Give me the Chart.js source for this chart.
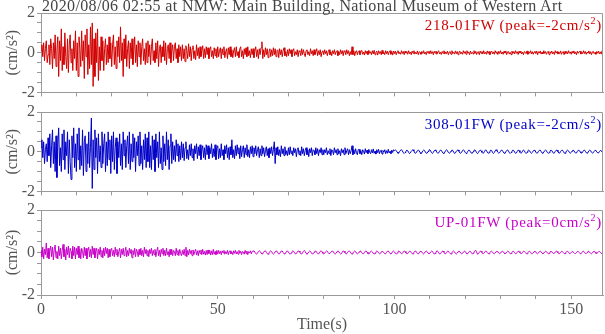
<!DOCTYPE html>
<html>
<head>
<meta charset="utf-8">
<script src="https://cdn.jsdelivr.net/npm/chart.js@4.4.1/dist/chart.umd.min.js"></script>
<style>
  body { margin: 0; background: #fff; width: 605px; height: 334px; position: relative; overflow: hidden; font-family: "Liberation Serif", "DejaVu Serif", serif; }
  #title { position: absolute; left: 42px; top: -2px; font-size: 16px; line-height: 16px; letter-spacing: 0.35px; color: #444; white-space: nowrap; z-index: 2; }
  canvas { position: absolute; left: 0; }
  .lbl { position: absolute; right: 3px; font-size: 15px; letter-spacing: 0.7px; line-height: 15px; white-space: nowrap; }
  .lbl sup { font-size: 10px; vertical-align: 6px; line-height: 0; }
</style>
</head>
<body>
<canvas id="c1" width="605" height="104" style="top:0px"></canvas>
<canvas id="c2" width="605" height="104" style="top:99px"></canvas>
<canvas id="c3" width="605" height="136" style="top:198px"></canvas>
<div id="title">2020/08/06 02:55 at NMW: Main Building, National Museum of Western Art</div>
<div class="lbl" style="top:18px;color:#d20000">218-01FW (peak=-2cm/s<sup>2</sup>)</div>
<div class="lbl" style="top:117px;color:#0000c8">308-01FW (peak=-2cm/s<sup>2</sup>)</div>
<div class="lbl" style="top:215px;color:#c800c8">UP-01FW (peak=0cm/s<sup>2</sup>)</div>
<script>
// sampling step of the traces (s), one row below = 10 s
const dt = 0.25;
const xTickLabels = [0, 50, 100, 150];
const yTickLabels = [-2, 0, 2];

// 218-01FW (cm/s^2)
const ns218 = [
  0.1, 0.4, -0.2, 0.5, -0.4, 0.2, 0.6, -0.5, -0.1, 0.4, -0.6, 0.7, 0.2, -0.8, 0.5, -0.3, 0.9, -0.7, 0.1, 0.8,
  -1.2, 0.6, -0.4, 1.2, -0.9, 0.3, -0.6, 1.0, -0.2, -0.8, 0.7, -1.0, 0.4, 0.9, -0.5, 0.2, -0.9, 0.6, -0.3, 1.1,
  -0.9, 0.5, -1.2, 0.8, 0.2, -0.7, 1.1, -0.4, 0.6, -1.3, 0.9, -0.2, 1.2, -1.1, 0.4, -0.8, 1.3, -0.6, 1.5, -1.7,
  0.7, -1.2, 1.0, -0.5, 1.2, -1.4, 0.3, -0.9, 0.8, -0.4, 0.6, -0.9, 0.2, 0.7, -0.6, 0.4, -0.5, 0.8, -0.3, 0.5,
  -0.7, 0.4, 0.9, -0.6, 0.3, -0.8, 0.6, -0.2, 0.8, -0.5, 1.3, -0.4, 0.5, -1.2, 0.7, -0.3, 0.9, -0.7, 0.2, 0.6,
  -0.8, 0.5, -0.3, 0.7, -0.6, 0.1, 0.8, -0.5, 0.4, -0.7, 0.6, -0.2, 0.5, -0.6, 0.3, 0.7, -0.4, 0.2, -0.6, 0.5,
  -0.5, 0.6, -0.2, 0.4, -0.6, 0.3, 0.7, -0.4, 0.1, -0.5, 0.5, -0.3, 0.6, -0.7, 0.2, 0.4, -0.5, 0.3, -0.2, 0.6,
  -0.4, 0.5, -0.6, 0.2, 0.4, -0.3, 0.5, -0.5, 0.1, 0.4, -0.4, 0.3, 0.5, -0.3, 0.2, -0.5, 0.4, -0.2, 0.3, -0.4,
  0.4, -0.3, 0.2, -0.45, 0.35, 0.1, -0.3, 0.45, -0.2, 0.3, -0.4, 0.2, 0.35, -0.3, 0.1, -0.35, 0.4, -0.15, 0.25, -0.3,
  0.3, -0.2, 0.1, 0.35, -0.3, 0.2, -0.25, 0.3, -0.1, 0.25, -0.3, 0.15, 0.3, -0.2, 0.1, -0.3, 0.25, -0.15, 0.2, -0.25,
  0.3, -0.2, 0.1, 0.25, -0.3, 0.2, -0.1, 0.3, -0.25, 0.05, 0.2, -0.3, 0.25, -0.1, 0.3, -0.2, 0.15, -0.25, 0.1, 0.25,
  -0.2, 0.3, -0.15, 0.05, -0.25, 0.2, 0.3, -0.2, 0.1, -0.3, 0.2, -0.1, 0.25, -0.2, 0.3, -0.15, 0.1, -0.25, 0.2, -0.1,
  0.2, -0.25, 0.1, 0.3, -0.2, 0.15, -0.3, 0.2, -0.1, 0.25, 0.55, -0.3, 0.15, -0.2, 0.25, -0.1, 0.2, -0.25, 0.05, 0.2,
  -0.2, 0.15, -0.15, 0.25, -0.1, 0.2, -0.2, 0.1, 0.15, -0.25, 0.2, -0.1, 0.15, -0.2, 0.1, 0.25, -0.15, 0.05, -0.2, 0.15,
  -0.15, 0.2, -0.05, 0.15, -0.2, 0.1, 0.2, -0.15, 0.05, -0.1, 0.15, -0.2, 0.1, 0.05, -0.15, 0.2, -0.1, 0.15, -0.05, -0.2,
  0.1, 0.15, -0.1, 0.05, -0.15, 0.2, -0.05, 0.1, -0.15, 0.15, -0.1, 0.05, 0.2, -0.15, 0.1, -0.1, 0.15, -0.2, 0.05, 0.1,
  -0.1, 0.15, -0.05, 0.1, -0.15, 0.05, 0.15, -0.1, 0.05, -0.15, 0.1, -0.05, 0.15, -0.1, 0.05, 0.1, -0.15, 0.05, -0.1, 0.15,
  -0.05, 0.1, -0.15, 0.1, 0.05, -0.1, 0.15, -0.05, 0.1, -0.15, 0.05, -0.1, 0.3, -0.1, 0.1, -0.15, 0.05, 0.1, -0.1, 0.05,
  0.1, -0.1, 0.05, 0.12, -0.08, 0.03, -0.12, 0.1, -0.05, 0.08, -0.1, 0.12, -0.03, 0.05, -0.1, 0.1, -0.06, 0.12, -0.1, 0.02,
  0.08, -0.12, 0.1, -0.04, 0.06, -0.1, 0.12, -0.06, 0.02, -0.1, 0.1, -0.05, 0.08, -0.1, 0.04, 0.1, -0.08, 0.06, -0.12, 0.08,
  -0.05, 0.08, -0.1, 0.04, 0.1, -0.06, 0.02, -0.08, 0.1, -0.04, 0.06, -0.1, 0.08, -0.02, 0.05, -0.08, 0.1, -0.05, 0.03, -0.1,
  0.08, -0.03, 0.1, -0.07, 0.02, -0.06, 0.09, -0.1, 0.05, 0.02, -0.08, 0.06, -0.04, 0.1, -0.06, 0.03, -0.1, 0.07, -0.02, 0.08,
  -0.06, 0.1, -0.04, 0.05, -0.1, 0.07, -0.02, 0.08, -0.08, 0.04, 0.1, -0.06, 0.02, -0.09, 0.06, -0.03, 0.1, -0.07, 0.04, -0.05,
  0.08, -0.1, 0.03, 0.06, -0.08, 0.1, -0.04, 0.02, -0.07, 0.09, -0.05, 0.06, -0.1, 0.04, 0.08, -0.06, 0.02, -0.08, 0.1, -0.03,
  0.06, -0.08, 0.1, -0.02, 0.04, -0.1, 0.08, -0.05, 0.02, -0.06, 0.1, -0.04, 0.07, -0.09, 0.03, 0.05, -0.1, 0.08, -0.03, 0.06,
  -0.07, 0.1, -0.05, 0.02, -0.08, 0.09, -0.04, 0.06, -0.1, 0.03, 0.08, -0.06, 0.04, -0.08, 0.1, -0.02, 0.05, -0.09, 0.07, -0.04,
  0.1, -0.06, 0.03, -0.08, 0.07, -0.02, 0.09, -0.1, 0.04, 0.06, -0.07, 0.02, -0.1, 0.08, -0.04, 0.06, -0.06, 0.1, -0.03, 0.05,
  -0.09, 0.07, -0.02, 0.08, -0.06, 0.03, -0.1, 0.06, 0.02, -0.05, 0.09, -0.08, 0.04, -0.03, 0.1, -0.06, 0.05, -0.08, 0.03, 0.07,
  -0.05, 0.08, -0.1, 0.05, -0.02, 0.09, -0.07, 0.03, -0.06, 0.1, -0.04, 0.06, -0.08, 0.02, 0.07, -0.1, 0.05, -0.03, 0.08, -0.06,
  0.04, -0.09, 0.1, -0.02, 0.06, -0.07, 0.03, -0.05, 0.09, -0.08, 0.02, 0.06, -0.1, 0.07, -0.04, 0.05, -0.06, 0.1, -0.03, 0.04,
  -0.08, 0.06, -0.02, 0.09, -0.06, 0.04, -0.1, 0.07, -0.03, 0.05, 0.08, -0.07, 0.02, -0.05, 0.1, -0.04, 0.06, -0.08, 0.03, -0.02,
  0.09, -0.06, 0.05, -0.1, 0.04, 0.07, -0.05, 0.02, -0.08, 0.06, -0.03, 0.08, -0.06, 0.04, -0.07, 0.1, -0.02, 0.05, -0.06, 0.03
];

// 308-01FW (cm/s^2)
const ew308 = [
  0.2, 0.6, -0.3, 0.5, -0.6, 0.1, 0.4, -0.5, 0.7, -0.2, 0.9, -0.8, 0.3, 1.1, -0.6, 0.5, -1.0, 0.8, -1.3, 0.4,
  1.2, -0.7, 0.2, -1.0, 0.9, -0.4, 1.1, -0.9, 0.5, -0.2, 1.0, -1.1, 0.6, -0.5, -1.4, 0.8, -0.3, 1.2, -0.8, 0.4,
  -1.0, 0.9, -0.4, 1.2, -0.9, 0.3, -0.7, 1.1, -1.2, 0.5, 0.8, -1.0, 0.4, -0.6, 1.0, -0.8, 0.2, 1.7, -1.85, 0.6,
  -0.9, 1.1, -0.3, 0.7, -1.1, 0.9, -0.5, 0.3, -0.8, 1.0, -0.6, 0.4, 0.9, -1.0, 0.5, -0.7, 1.0, -0.4, 0.6, -1.1,
  0.8, -0.5, 1.0, -0.9, 0.2, 0.7, -1.1, 0.5, -0.3, 0.9, -0.7, 0.4, -0.9, 1.0, -0.2, 0.6, -0.8, 0.3, 0.8, -0.6,
  1.0, -0.9, 0.4, -0.5, 0.9, -0.3, 0.7, -1.0, 0.5, -0.2, 0.8, -0.7, 1.0, -0.6, 0.3, -0.9, 0.6, -0.4, 0.9, -0.8,
  0.7, -0.5, 1.0, -0.8, 0.3, -0.9, 0.8, -0.4, 0.6, -1.0, 0.9, -0.3, 0.5, -0.8, 1.0, -0.6, 0.2, -0.9, 0.8, -0.5,
  0.4, -0.7, 1.0, -0.4, 0.6, -0.9, 0.3, 0.9, -0.6, 0.5, -0.4, 0.3, -0.5, 0.6, -0.2, 0.4, -0.5, 0.3, -0.4, 0.5,
  -0.3, 0.4, -0.45, 0.2, 0.5, -0.35, 0.1, -0.4, 0.35, -0.2, 0.4, -0.3, 0.15, -0.45, 0.3, -0.1, 0.4, -0.35, 0.25, -0.2,
  0.35, -0.4, 0.1, 0.3, -0.3, 0.2, -0.4, 0.35, -0.15, 0.3, -0.35, 0.2, -0.1, 0.4, -0.3, 0.15, -0.25, 0.35, -0.4, 0.2,
  0.3, -0.35, 0.15, -0.3, 0.4, -0.2, 0.1, -0.4, 0.3, -0.1, 0.35, -0.3, 0.2, -0.4, 0.25, -0.15, 0.6, -0.3, 0.1, -0.35,
  0.3, -0.2, 0.35, -0.1, 0.2, -0.35, 0.3, -0.25, 0.1, 0.3, -0.3, 0.2, -0.15, 0.35, -0.25, 0.1, -0.3, 0.25, -0.1, 0.3,
  -0.25, 0.2, -0.1, 0.3, -0.2, 0.1, 0.25, -0.3, 0.15, -0.2, 0.3, -0.1, 0.2, -0.25, 0.05, 0.25, -0.2, 0.15, -0.3, 0.2,
  -0.1, 0.25, -0.2, 0.1, 0.5, -0.6, 0.2, -0.15, 0.25, -0.2, 0.1, -0.25, 0.3, -0.1, 0.15, -0.2, 0.25, -0.15, 0.05, -0.2,
  0.2, -0.15, 0.25, -0.1, 0.05, -0.2, 0.2, -0.05, 0.15, -0.25, 0.1, 0.2, -0.15, 0.05, -0.2, 0.25, -0.1, 0.15, -0.2, 0.05,
  0.2, -0.15, 0.1, -0.25, 0.15, -0.05, 0.2, -0.2, 0.1, 0.05, -0.15, 0.2, -0.1, 0.15, -0.2, 0.1, -0.05, 0.2, -0.15, 0.1,
  -0.15, 0.1, -0.05, 0.2, -0.15, 0.05, -0.1, 0.15, -0.2, 0.1, 0.05, -0.15, 0.2, -0.05, 0.1, -0.15, 0.15, -0.1, 0.05, -0.2,
  0.15, -0.05, 0.1, -0.15, 0.2, -0.1, 0.05, 0.15, -0.15, 0.1, -0.1, 0.05, 0.3, -0.15, 0.1, -0.1, 0.15, -0.05, -0.15, 0.1,
  0.12, -0.1, 0.05, -0.15, 0.1, 0.02, -0.12, 0.15, -0.05, 0.08, -0.1, 0.12, -0.04, -0.1, 0.1, -0.06, 0.14, -0.08, 0.03, -0.12,
  0.1, -0.05, 0.12, -0.1, 0.04, 0.08, -0.12, 0.06, -0.02, 0.1, -0.1, 0.05, -0.08, 0.12, -0.06, 0.02, -0.1, 0.08, -0.04, 0.1,
  0.05, 0.09, 0.06, -0.02, -0.08, -0.06, 0.02, 0.08, 0.1, 0.04, -0.05, -0.09, -0.04, 0.03, 0.08, 0.05, -0.03, -0.1, -0.06, 0.02,
  0.07, 0.1, 0.03, -0.06, -0.08, -0.02, 0.05, 0.09, 0.04, -0.04, -0.1, -0.05, 0.04, 0.08, 0.06, -0.02, -0.08, -0.07, 0.01, 0.08,
  0.1, 0.03, -0.05, -0.09, -0.03, 0.05, 0.09, 0.05, -0.03, -0.08, -0.06, 0.02, 0.08, 0.07, -0.01, -0.07, -0.09, -0.02, 0.06, 0.1,
  0.04, -0.04, -0.08, -0.05, 0.03, 0.09, 0.06, -0.02, -0.09, -0.06, 0.02, 0.07, 0.09, 0.02, -0.06, -0.08, -0.03, 0.05, 0.1, 0.05,
  -0.03, -0.09, -0.06, 0.02, 0.08, 0.07, -0.01, -0.07, -0.08, 0.0, 0.07, 0.09, 0.03, -0.05, -0.1, -0.04, 0.04, 0.08, 0.05, -0.03,
  -0.08, -0.06, 0.02, 0.09, 0.07, -0.02, -0.08, -0.05, 0.03, 0.08, 0.06, -0.04, -0.09, -0.04, 0.04, 0.1, 0.05, -0.03, -0.07, -0.05,
  0.02, 0.08, 0.07, -0.01, -0.07, -0.08, -0.01, 0.06, 0.09, 0.03, -0.05, -0.09, -0.04, 0.04, 0.08, 0.06, -0.02, -0.08, -0.06, 0.02,
  0.08, 0.06, -0.03, -0.08, -0.05, 0.03, 0.09, 0.05, -0.04, -0.09, -0.03, 0.05, 0.08, 0.04, -0.04, -0.08, -0.04, 0.03, 0.08, 0.06,
  -0.02, -0.08, -0.06, 0.02, 0.07, 0.08, 0.01, -0.06, -0.08, -0.02, 0.05, 0.09, 0.04, -0.04, -0.08, -0.05, 0.03, 0.08, 0.06, -0.02,
  -0.08, -0.06, 0.02, 0.07, 0.08, 0.0, -0.07, -0.07, 0.01, 0.07, 0.08, 0.02, -0.06, -0.08, -0.02, 0.05, 0.08, 0.04, -0.04, -0.08,
  -0.04, 0.03, 0.08, 0.06, -0.02, -0.07, -0.06, 0.02, 0.07, 0.07, 0.0, -0.06, -0.07, -0.01, 0.06, 0.08, 0.02, -0.05, -0.07, -0.03,
  0.04, 0.08, 0.05, -0.03, -0.07, -0.05, 0.02, 0.07, 0.06, -0.01, -0.06, -0.06, 0.01, 0.06, 0.05, -0.02, -0.05, -0.03, 0.02, 0.04
];

// UP-01FW (cm/s^2)
const up01 = [
  0.1, -0.2, 0.25, -0.3, 0.15, -0.1, 0.45, -0.25, 0.2, -0.3, 0.1, 0.3, -0.2, 0.25, -0.35, 0.15, 0.35, -0.25, 0.05, -0.3,
  0.3, -0.15, 0.2, -0.3, 0.1, 0.38, -0.2, 0.15, -0.35, 0.25, -0.1, 0.3, -0.25, 0.2, 0.05, -0.3, 0.3, -0.15, 0.25, -0.3,
  0.2, -0.1, 0.3, -0.25, 0.15, -0.3, 0.2, 0.05, -0.25, 0.25, -0.15, 0.2, -0.3, 0.1, 0.25, -0.2, 0.15, -0.25, 0.3, -0.1,
  0.2, -0.25, 0.05, 0.2, -0.3, 0.15, -0.1, 0.25, -0.2, 0.1, -0.25, 0.2, -0.15, 0.25, -0.05, 0.2, -0.25, 0.15, -0.2, 0.1,
  0.2, -0.15, 0.1, -0.2, 0.25, -0.1, 0.15, -0.2, 0.05, 0.2, -0.25, 0.15, -0.1, 0.2, -0.15, 0.05, 0.25, -0.2, 0.1, -0.15,
  0.2, -0.05, 0.15, -0.25, 0.1, -0.1, 0.2, -0.2, 0.15, 0.05, -0.2, 0.15, -0.1, 0.2, -0.15, 0.1, -0.2, 0.25, -0.05, 0.15,
  -0.15, 0.1, -0.2, 0.15, -0.05, 0.2, -0.15, 0.1, -0.1, 0.15, -0.2, 0.05, 0.25, -0.15, 0.1, -0.2, 0.15, -0.05, 0.2, -0.15,
  0.1, -0.15, 0.2, -0.1, 0.05, -0.2, 0.15, -0.1, 0.15, -0.15, 0.1, 0.05, -0.15, 0.2, -0.1, 0.1, -0.15, 0.15, -0.05, -0.15,
  0.1, -0.1, 0.15, -0.15, 0.25, -0.2, 0.1, -0.12, 0.15, -0.05, 0.1, -0.15, 0.12, -0.1, 0.05, 0.15, -0.12, 0.08, -0.15, 0.1,
  -0.05, 0.12, -0.1, 0.15, -0.08, 0.05, -0.12, 0.1, -0.1, 0.12, -0.05, 0.1, -0.12, 0.08, -0.1, 0.15, -0.08, 0.05, -0.1, 0.1,
  -0.08, 0.1, -0.05, 0.06, -0.1, 0.08, -0.02, 0.1, -0.08, 0.04, -0.06, 0.1, -0.1, 0.05, 0.08, -0.06, 0.02, -0.1, 0.08, -0.04,
  0.1, -0.07, 0.04, -0.08, 0.1, -0.03, 0.06, -0.1, 0.05, 0.02, -0.08, 0.1, -0.05, 0.07, -0.1, 0.04, -0.02, 0.08, -0.07, 0.05,
  0.06, 0.08, 0.02, -0.05, -0.08, -0.03, 0.04, 0.08, 0.05, -0.02, -0.07, -0.06, 0.01, 0.07, 0.08, 0.01, -0.06, -0.08, -0.02, 0.05,
  0.08, 0.04, -0.04, -0.08, -0.04, 0.03, 0.07, 0.06, -0.01, -0.07, -0.06, 0.02, 0.07, 0.07, 0.0, -0.06, -0.07, -0.01, 0.06, 0.07,
  0.02, -0.05, -0.08, -0.03, 0.04, 0.08, 0.05, -0.02, -0.07, -0.05, 0.02, 0.07, 0.07, 0.01, -0.06, -0.07, -0.02, 0.05, 0.1, 0.04,
  -0.04, -0.08, -0.04, 0.03, 0.07, 0.05, -0.02, -0.07, -0.06, 0.01, 0.06, 0.07, 0.01, -0.05, -0.07, -0.02, 0.05, 0.08, 0.03, -0.04,
  -0.07, -0.04, 0.03, 0.07, 0.06, -0.01, -0.06, -0.06, 0.0, 0.06, 0.07, 0.02, -0.05, -0.07, -0.03, 0.04, 0.08, 0.04, -0.03, -0.07,
  -0.05, 0.02, 0.07, 0.06, -0.01, -0.06, -0.06, 0.01, 0.06, 0.07, 0.02, -0.05, -0.07, -0.02, 0.04, 0.07, 0.04, -0.03, -0.06, -0.04,
  0.02, 0.07, 0.06, -0.01, -0.06, -0.06, 0.0, 0.06, 0.07, 0.02, -0.05, -0.07, -0.02, 0.05, 0.07, 0.03, -0.04, -0.07, -0.04, 0.03,
  0.07, 0.05, -0.02, -0.06, -0.05, 0.02, 0.06, 0.06, 0.0, -0.06, -0.06, 0.0, 0.06, 0.07, 0.01, -0.05, -0.07, -0.02, 0.05, 0.07,
  0.03, -0.04, -0.07, -0.03, 0.04, 0.07, 0.04, -0.03, -0.06, -0.04, 0.02, 0.07, 0.05, -0.02, -0.06, -0.05, 0.01, 0.06, 0.06, 0.0,
  -0.06, -0.06, 0.0, 0.06, 0.07, 0.01, -0.05, -0.07, -0.02, 0.05, 0.07, 0.03, -0.04, -0.07, -0.03, 0.04, 0.07, 0.04, -0.03, -0.06,
  -0.04, 0.03, 0.07, 0.05, -0.02, -0.07, -0.05, 0.02, 0.08, 0.06, -0.01, -0.07, -0.06, 0.0, 0.06, 0.07, 0.01, -0.06, -0.06, 0.0,
  0.06, 0.06, 0.0, -0.05, -0.07, -0.02, 0.05, 0.07, 0.03, -0.04, -0.07, -0.03, 0.04, 0.07, 0.04, -0.03, -0.06, -0.04, 0.02, 0.06,
  0.05, -0.02, -0.06, -0.05, 0.01, 0.06, 0.05, -0.02, -0.06, -0.04, 0.03, 0.07, 0.1, 0.02, -0.08, -0.06, 0.01, 0.06, 0.06, 0.0,
  -0.06, -0.05, 0.01, 0.06, 0.06, 0.0, -0.05, -0.06, -0.01, 0.05, 0.06, 0.02, -0.04, -0.06, -0.02, 0.04, 0.06, 0.03, -0.03, -0.06,
  -0.03, 0.03, 0.06, 0.04, -0.02, -0.06, -0.04, 0.02, 0.06, 0.05, -0.01, -0.06, -0.05, 0.01, 0.06, 0.05, -0.01, -0.06, -0.05, 0.01,
  0.06, 0.05, -0.01, -0.05, -0.05, 0.01, 0.06, 0.05, 0.0, -0.05, -0.06, -0.01, 0.05, 0.06, 0.01, -0.05, -0.06, -0.02, 0.04, 0.06,
  0.02, -0.04, -0.06, -0.02, 0.04, 0.06, 0.03, -0.03, -0.06, -0.03, 0.03, 0.06, 0.04, -0.02, -0.06, -0.04, 0.02, 0.06, 0.04, -0.02,
  -0.05, -0.04, 0.02, 0.06, 0.05, -0.01, -0.06, -0.05, 0.01, 0.05, 0.05, 0.0, -0.05, -0.05, 0.0, 0.05, 0.06, 0.01, -0.05, -0.05,
  0.0, 0.05, 0.05, 0.0, -0.05, -0.05, 0.0, 0.05, 0.05, 0.0, -0.05, -0.06, -0.01, 0.05, 0.06, 0.01, -0.05, -0.05, 0.0, 0.05,
  0.05, 0.01, -0.04, -0.06, -0.02, 0.04, 0.06, 0.02, -0.04, -0.05, -0.01, 0.04, 0.05, 0.01, -0.04, -0.05, -0.02, 0.02, 0.03, -0.02
];

const FONT = "'Liberation Serif', 'DejaVu Serif', serif";
const AXIS = '#999';
const TEXT = '#555';

const onStep = (v, step) => Math.abs(v - Math.round(v / step) * step) < 1e-6;

// top and right sides of each panel box
const frame = {
  id: 'frame',
  afterDraw(chart) {
    const a = chart.chartArea;
    const ctx = chart.ctx;
    ctx.save();
    ctx.strokeStyle = AXIS;
    ctx.lineWidth = 1;
    ctx.beginPath();
    ctx.moveTo(Math.round(a.left), Math.round(a.top) + 0.5);
    ctx.lineTo(Math.round(a.right) - 0.5, Math.round(a.top) + 0.5);
    ctx.lineTo(Math.round(a.right) - 0.5, Math.round(a.bottom));
    ctx.stroke();
    ctx.restore();
  }
};

function makePanel(id, values, color, padTop, isBottom) {
  const points = values.map((v, i) => ({ x: i * dt, y: v }));
  return new Chart(document.getElementById(id), {
    type: 'line',
    data: {
      datasets: [{
        data: points,
        borderColor: color,
        borderWidth: 1,
        pointRadius: 0,
        tension: 0,
        fill: false
      }]
    },
    options: {
      responsive: false,
      animation: false,
      events: [],
      layout: { padding: { top: padTop, right: 2, left: 0, bottom: 0 } },
      plugins: { legend: { display: false }, tooltip: { enabled: false } },
      scales: {
        x: {
          type: 'linear',
          min: 0,
          max: 159,
          afterBuildTicks: s => { s.ticks = s.ticks.filter(t => onStep(t.value, 10)); },
          afterFit: s => { s.height = isBottom ? 39 : 5; },
          ticks: {
            stepSize: 10,
            includeBounds: false,
            autoSkip: false,
            maxRotation: 0,
            display: isBottom,
            padding: 1,
            color: TEXT,
            font: { family: FONT, size: 16 },
            callback: v => {
              const r = Math.round(v);
              return onStep(v, 10) && xTickLabels.includes(r) ? String(r) : '';
            }
          },
          grid: { drawOnChartArea: false, drawTicks: true, tickLength: 4, color: AXIS },
          border: { color: AXIS },
          title: {
            display: isBottom,
            text: 'Time(s)',
            color: TEXT,
            font: { family: FONT, size: 16 },
            padding: 0
          }
        },
        y: {
          min: -2,
          max: 2,
          afterFit: s => { s.width = 41; },
          ticks: {
            stepSize: 0.5,
            autoSkip: false,
            padding: 2,
            color: TEXT,
            font: { family: FONT, size: 16 },
            callback: v => yTickLabels.includes(v) ? String(v) : ''
          },
          grid: { drawOnChartArea: false, drawTicks: true, tickLength: 4, color: AXIS },
          border: { color: AXIS },
          title: {
            display: true,
            text: '(cm/s²)',
            color: TEXT,
            font: { family: FONT, size: 16 },
            padding: { top: 3, bottom: 0 }
          }
        }
      }
    },
    plugins: [frame]
  });
}

makePanel('c1', ns218, '#d20000', 13, false);
makePanel('c2', ew308, '#0000c8', 13, false);
makePanel('c3', up01, '#c800c8', 12, true);
</script>
</body>
</html>
